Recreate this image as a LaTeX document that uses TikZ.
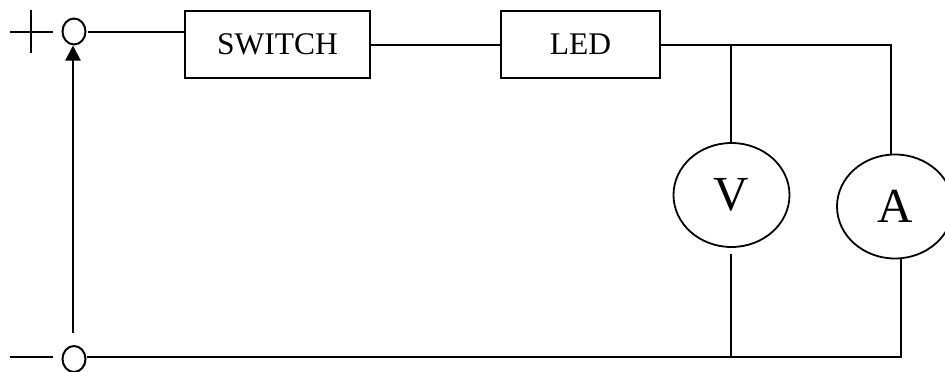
\documentclass[tikz,border=0pt]{standalone}
\usepackage{fontspec}
\setmainfont{Liberation Serif}
\usetikzlibrary{shapes.geometric,arrows.meta}
\tikzset{
  wire/.style={line width=2pt,black},
  box/.style={draw,line width=2pt,rectangle,inner sep=0pt,minimum height=67pt,font=\fontsize{31.5}{31.5}\selectfont},
  meter/.style={draw,line width=1.8pt,ellipse,inner sep=0pt,minimum width=116pt,minimum height=104pt,font=\fontsize{49}{49}\selectfont},
  terminal/.style={draw,line width=2pt,ellipse,inner sep=0pt,minimum width=23pt,minimum height=26pt}
}
\begin{document}
\begin{tikzpicture}[x=1pt,y=-1pt]
\useasboundingbox[fill=white] (0,0) rectangle (945,372);
\node[box,minimum width=185pt] (sw) at (277.5,44.5) {SWITCH};
\node[box,minimum width=159pt] (led) at (580.5,44.5) {LED};
\node[terminal] (tp) at (74,31.5) {};
\node[terminal] (tn) at (74,359) {};
\node[meter] (v) at (731.5,195) {V};
\node[meter] (a) at (895,206.5) {A};
\coordinate (plusL) at (10,32);
\coordinate (plusR) at (53,32);
\coordinate (plusT) at (31,10);
\coordinate (plusB) at (31,53);
\coordinate (minusL) at (10,356.5);
\coordinate (minusR) at (53,356.5);
\coordinate (tpR) at (88,32);
\coordinate (arrowS) at (73,333);
\coordinate (arrowE) at (73,45.5);
\coordinate (j1) at (731,44.5);
\coordinate (j2) at (891,44.5);
\coordinate (j3) at (731,356.5);
\coordinate (j4) at (901,356.5);
\coordinate (vLow) at (731,254);
\coordinate (vUp) at (731,143);
\coordinate (aUp) at (891,155);
\coordinate (aLow) at (901,258);
\draw[wire] (plusL) -- (plusR);
\draw[wire] (plusT) -- (plusB);
\draw[wire] (minusL) -- (minusR);
\draw[wire] (tpR) -- (sw.west |- tpR);
\draw[wire] (sw.east) -- (led.west);
\draw[wire] (led.east) -- (j2) -- (aUp);
\draw[wire] (j1) -- (vUp);
\draw[wire] (tn.east |- j3) -- (j4) -- (aLow);
\draw[wire] (vLow) -- (j3);
\draw[wire,-{Triangle[length=15pt,width=15pt]}] (arrowS) -- (arrowE);
\end{tikzpicture}
\end{document}
